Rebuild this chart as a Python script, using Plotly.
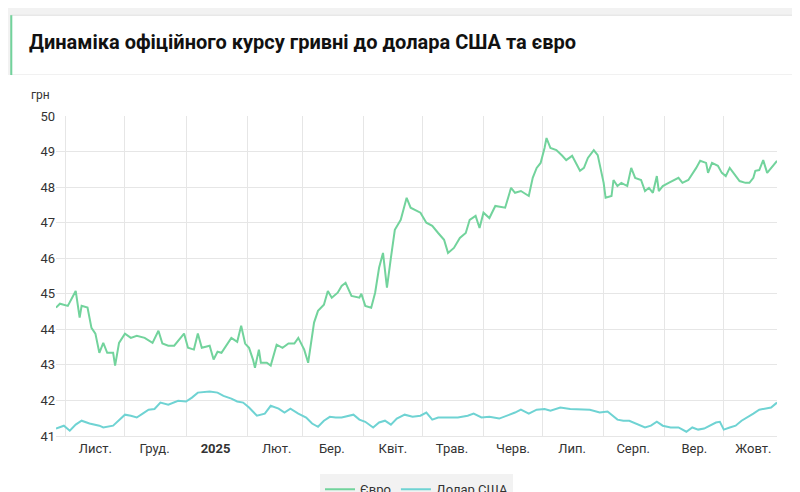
import pandas as pd
import plotly.graph_objects as go

# days elapsed since 2024-11-01
eur_day = [-5, -3, 1, 3, 5, 7, 8, 11, 13, 15, 17, 19, 21, 24, 25, 27, 30, 33, 36, 40, 44, 47, 49, 52, 55,
           60, 62, 65, 67, 69, 73, 75, 77, 79, 84, 87, 89, 91, 93, 95, 96, 98, 99, 102, 104, 107, 110,
           113, 116, 118, 121, 123, 126, 128, 131, 133, 135, 138, 140, 142, 145, 149, 150, 152, 155, 157,
           159, 161, 163, 165, 167, 170, 173, 175, 180, 183, 186, 189, 192, 194, 197, 200, 203, 205, 208,
           210, 212, 215, 218, 223, 226, 228, 231, 235, 237, 239, 241, 243, 244, 246, 249, 252, 254, 257,
           259, 261, 263, 265, 268, 270, 273, 274, 277, 278, 280, 282, 285, 287, 289, 292, 294, 296, 298,
           300, 301, 303, 306, 309, 311, 313, 316, 320, 322, 325, 326, 328, 331, 333, 335, 337, 339, 342,
           345, 347, 349, 350, 352, 354, 356, 358, 361]
eur = [44.61, 44.72, 44.66, 44.89, 45.08, 44.33, 44.66, 44.61, 44.04, 43.88, 43.34, 43.62, 43.34, 43.34,
       42.98, 43.62, 43.88, 43.76, 43.82, 43.76, 43.62, 43.96, 43.6, 43.54, 43.54, 43.88, 43.48, 43.43,
       43.88, 43.48, 43.54, 43.15, 43.37, 43.34, 43.76, 43.65, 44.1, 43.6, 43.48, 43.15, 42.92, 43.43,
       43.06, 43.06, 42.98, 43.57, 43.48, 43.6, 43.6, 43.76, 43.43, 43.06, 44.19, 44.52, 44.69, 45.08,
       44.89, 45.03, 45.22, 45.31, 44.94, 44.89, 45.0, 44.66, 44.61, 45.03, 45.73, 46.15, 45.17, 46.01,
       46.8, 47.08, 47.7, 47.42, 47.28, 47.0, 46.91, 46.71, 46.52, 46.15, 46.29, 46.57, 46.71, 47.08,
       47.19, 46.85, 47.28, 47.13, 47.47, 47.42, 47.98, 47.84, 47.89, 47.75, 48.26, 48.54, 48.68, 49.1,
       49.38, 49.1, 49.04, 48.88, 48.76, 48.88, 48.68, 48.46, 48.54, 48.82, 49.04, 48.9, 48.12, 47.7,
       47.75, 48.2, 48.03, 48.12, 48.03, 48.54, 48.26, 48.2, 47.89, 47.98, 47.84, 48.31, 47.89, 48.03,
       48.12, 48.2, 48.26, 48.12, 48.2, 48.54, 48.74, 48.68, 48.4, 48.68, 48.6, 48.4, 48.31, 48.54, 48.4,
       48.17, 48.12, 48.12, 48.26, 48.46, 48.48, 48.76, 48.4, 48.54, 48.74]

usd_day = [-5, -1, 2, 5, 8, 12, 17, 19, 24, 26, 30, 33, 36, 39, 42, 45, 48, 52, 57, 61, 64, 67, 73, 77,
           80, 84, 87, 90, 93, 97, 101, 104, 108, 111, 114, 118, 122, 125, 128, 131, 134, 137, 140, 146,
           149, 152, 156, 159, 162, 165, 168, 172, 176, 180, 183, 186, 189, 194, 199, 204, 207, 211, 215,
           220, 224, 228, 231, 235, 239, 243, 246, 251, 256, 261, 266, 271, 275, 280, 283, 286, 291, 294,
           297, 300, 303, 307, 311, 315, 318, 321, 324, 327, 330, 332, 334, 337, 340, 343, 346, 349, 352,
           355, 358, 361]
usd = [41.21, 41.29, 41.15, 41.32, 41.43, 41.35, 41.29, 41.24, 41.29, 41.4, 41.6, 41.57, 41.52, 41.63,
       41.74, 41.76, 41.94, 41.88, 41.99, 41.97, 42.08, 42.22, 42.25, 42.22, 42.13, 42.05, 41.97, 41.94,
       41.8, 41.57, 41.63, 41.85, 41.77, 41.66, 41.77, 41.63, 41.52, 41.35, 41.26, 41.43, 41.54, 41.52,
       41.52, 41.6, 41.46, 41.4, 41.24, 41.38, 41.43, 41.32, 41.49, 41.6, 41.54, 41.57, 41.66, 41.46,
       41.52, 41.52, 41.52, 41.57, 41.63, 41.52, 41.54, 41.49, 41.57, 41.66, 41.74, 41.63, 41.74, 41.76,
       41.71, 41.8, 41.76, 41.74, 41.74, 41.66, 41.69, 41.46, 41.43, 41.43, 41.32, 41.24, 41.29, 41.4,
       41.29, 41.24, 41.24, 41.12, 41.24, 41.18, 41.21, 41.29, 41.38, 41.4, 41.18, 41.24, 41.29, 41.43,
       41.52, 41.63, 41.74, 41.76, 41.8, 41.94]

months = ["Лист.", "Груд.", "<b>2025</b>", "Лют.", "Бер.", "Квіт.", "Трав.", "Черв.", "Лип.",
          "Серп.", "Вер.", "Жовт."]

start = pd.Timestamp("2024-11-01")
eur_x = [start + pd.Timedelta(days=d) for d in eur_day]
usd_x = [start + pd.Timedelta(days=d) for d in usd_day]
month_starts = pd.date_range("2024-11-01", periods=len(months), freq="MS")
# labels sit mid-month, grid lines at month starts
month_mids = [m + pd.Timedelta(days=15) for m in month_starts]

fig = go.Figure()
fig.add_trace(go.Scatter(x=eur_x, y=eur, mode="lines", name="Євро",
                         line=dict(color="#72d39c", width=2)))
fig.add_trace(go.Scatter(x=usd_x, y=usd, mode="lines", name="Долар США",
                         line=dict(color="#6fd3d3", width=2)))

fig.update_xaxes(range=[eur_x[0], eur_x[-1]], tickvals=month_mids, ticktext=months,
                 showgrid=False, showline=True, linecolor="#e6e6e6", ticks="", zeroline=False,
                 minor=dict(tickvals=month_starts, showgrid=True, gridcolor="#e6e6e6", ticks=""),
                 tickfont=dict(size=13, color="#333333"))
fig.update_yaxes(range=[41, 50], dtick=1, showgrid=True, gridcolor="#e6e6e6",
                 zeroline=False, ticks="", tickfont=dict(size=13, color="#333333"))

# header box
fig.add_shape(type="rect", xref="paper", yref="paper", x0=-0.063, x1=1.045, y0=1.128, y1=1.315,
              fillcolor="white", line=dict(color="#e0e0e0", width=1), layer="below")
fig.add_shape(type="line", xref="paper", yref="paper", x0=-0.062, x1=-0.062, y0=1.128, y1=1.315,
              line=dict(color="#72d39c", width=2))

fig.add_annotation(text="<b>Динаміка офіційного курсу гривні до долара США та євро</b>",
                   xref="paper", yref="paper", x=-0.04, y=1.232, xanchor="left", yanchor="middle",
                   showarrow=False, font=dict(size=20, color="#111111"))
fig.add_annotation(text="грн", xref="paper", yref="paper", x=-0.037, y=1.065, xanchor="left",
                   yanchor="middle", showarrow=False, font=dict(size=12, color="#333333"))

fig.update_layout(
    width=800, height=492,
    margin=dict(l=48, r=31, t=108, b=64, autoexpand=False),
    plot_bgcolor="white", paper_bgcolor="#f2f2f2",
    font=dict(family="Roboto, sans-serif", color="#333333"),
    showlegend=True,
    legend=dict(orientation="h", x=0.5, xanchor="center", y=-0.12, yanchor="top",
                font=dict(size=13, color="#333333")),
)
# white page below the grey top strip
fig.add_shape(type="rect", xref="paper", yref="paper", x0=-0.07, x1=1.05, y0=-0.3, y1=1.128,
              fillcolor="white", line=dict(width=0), layer="below")

fig.write_html("out.html")
